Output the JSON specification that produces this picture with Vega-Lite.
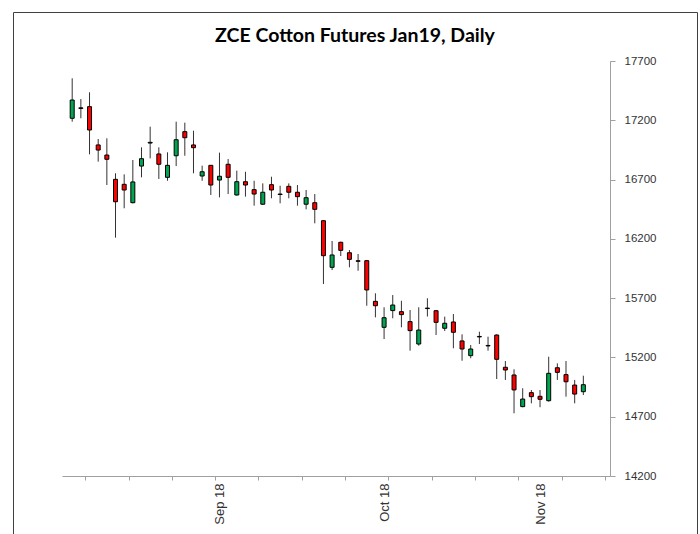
{
  "$schema": "https://vega.github.io/schema/vega-lite/v6.json",
  "width": 684,
  "height": 522,
  "autosize": {"type": "none"},
  "padding": {"left": 13, "top": 12, "right": 3, "bottom": 0},
  "background": "white",
  "title": {
    "text": "ZCE Cotton Futures Jan19, Daily",
    "font": "Lato",
    "fontSize": 19.5,
    "fontWeight": "bold",
    "color": "#000000",
    "anchor": "middle",
    "frame": "group",
    "baseline": "top",
    "offset": -34
  },
  "data": {
    "values": [
      {"date": "2018-08-09", "o": 17217, "h": 17554, "l": 17188, "c": 17371},
      {"date": "2018-08-10", "o": 17305, "h": 17379, "l": 17217, "c": 17300},
      {"date": "2018-08-13", "o": 17315, "h": 17436, "l": 16913, "c": 17118},
      {"date": "2018-08-14", "o": 16992, "h": 17042, "l": 16851, "c": 16949},
      {"date": "2018-08-15", "o": 16907, "h": 17048, "l": 16654, "c": 16871},
      {"date": "2018-08-16", "o": 16702, "h": 16753, "l": 16210, "c": 16513},
      {"date": "2018-08-17", "o": 16660, "h": 16744, "l": 16458, "c": 16612},
      {"date": "2018-08-20", "o": 16505, "h": 16865, "l": 16500, "c": 16680},
      {"date": "2018-08-21", "o": 16814, "h": 16972, "l": 16719, "c": 16876},
      {"date": "2018-08-22", "o": 17008, "h": 17146, "l": 16879, "c": 17014},
      {"date": "2018-08-23", "o": 16916, "h": 16972, "l": 16705, "c": 16829},
      {"date": "2018-08-24", "o": 16719, "h": 16930, "l": 16690, "c": 16820},
      {"date": "2018-08-27", "o": 16901, "h": 17188, "l": 16814, "c": 17036},
      {"date": "2018-08-28", "o": 17104, "h": 17180, "l": 16901, "c": 17053},
      {"date": "2018-08-29", "o": 16992, "h": 17112, "l": 16753, "c": 16969},
      {"date": "2018-08-30", "o": 16730, "h": 16817, "l": 16690, "c": 16766},
      {"date": "2018-08-31", "o": 16820, "h": 16823, "l": 16570, "c": 16654},
      {"date": "2018-09-03", "o": 16696, "h": 16927, "l": 16550, "c": 16728},
      {"date": "2018-09-04", "o": 16829, "h": 16873, "l": 16578, "c": 16719},
      {"date": "2018-09-05", "o": 16570, "h": 16775, "l": 16565, "c": 16682},
      {"date": "2018-09-06", "o": 16682, "h": 16766, "l": 16556, "c": 16654},
      {"date": "2018-09-07", "o": 16615, "h": 16690, "l": 16480, "c": 16578},
      {"date": "2018-09-10", "o": 16492, "h": 16668, "l": 16486, "c": 16593},
      {"date": "2018-09-11", "o": 16657, "h": 16724, "l": 16542, "c": 16612},
      {"date": "2018-09-12", "o": 16578, "h": 16648, "l": 16500, "c": 16574},
      {"date": "2018-09-13", "o": 16643, "h": 16668, "l": 16542, "c": 16593},
      {"date": "2018-09-14", "o": 16593, "h": 16654, "l": 16480, "c": 16556},
      {"date": "2018-09-17", "o": 16492, "h": 16612, "l": 16449, "c": 16547},
      {"date": "2018-09-18", "o": 16505, "h": 16578, "l": 16331, "c": 16449},
      {"date": "2018-09-19", "o": 16353, "h": 16359, "l": 15819, "c": 16058},
      {"date": "2018-09-20", "o": 15960, "h": 16182, "l": 15937, "c": 16064},
      {"date": "2018-09-21", "o": 16171, "h": 16176, "l": 16055, "c": 16103},
      {"date": "2018-09-25", "o": 16083, "h": 16106, "l": 15960, "c": 16027},
      {"date": "2018-09-26", "o": 16015, "h": 16072, "l": 15931, "c": 16011},
      {"date": "2018-09-27", "o": 16016, "h": 16022, "l": 15636, "c": 15769},
      {"date": "2018-09-28", "o": 15673, "h": 15741, "l": 15538, "c": 15636},
      {"date": "2018-10-08", "o": 15454, "h": 15623, "l": 15355, "c": 15535},
      {"date": "2018-10-09", "o": 15595, "h": 15726, "l": 15530, "c": 15642},
      {"date": "2018-10-10", "o": 15586, "h": 15678, "l": 15454, "c": 15561},
      {"date": "2018-10-11", "o": 15502, "h": 15600, "l": 15257, "c": 15426},
      {"date": "2018-10-12", "o": 15313, "h": 15623, "l": 15299, "c": 15431},
      {"date": "2018-10-15", "o": 15616, "h": 15699, "l": 15545, "c": 15612},
      {"date": "2018-10-16", "o": 15594, "h": 15600, "l": 15389, "c": 15496},
      {"date": "2018-10-17", "o": 15446, "h": 15544, "l": 15423, "c": 15488},
      {"date": "2018-10-18", "o": 15499, "h": 15566, "l": 15277, "c": 15412},
      {"date": "2018-10-19", "o": 15339, "h": 15395, "l": 15172, "c": 15271},
      {"date": "2018-10-22", "o": 15215, "h": 15305, "l": 15193, "c": 15271},
      {"date": "2018-10-23", "o": 15377, "h": 15417, "l": 15313, "c": 15373},
      {"date": "2018-10-24", "o": 15301, "h": 15375, "l": 15257, "c": 15297},
      {"date": "2018-10-25", "o": 15389, "h": 15395, "l": 15018, "c": 15184},
      {"date": "2018-10-26", "o": 15117, "h": 15170, "l": 15010, "c": 15094},
      {"date": "2018-10-29", "o": 15052, "h": 15100, "l": 14729, "c": 14926},
      {"date": "2018-10-30", "o": 14785, "h": 14940, "l": 14780, "c": 14849},
      {"date": "2018-10-31", "o": 14903, "h": 14925, "l": 14813, "c": 14869},
      {"date": "2018-11-01", "o": 14872, "h": 14925, "l": 14780, "c": 14847},
      {"date": "2018-11-02", "o": 14835, "h": 15206, "l": 14827, "c": 15066},
      {"date": "2018-11-05", "o": 15113, "h": 15150, "l": 15010, "c": 15074},
      {"date": "2018-11-06", "o": 15055, "h": 15170, "l": 14869, "c": 14995},
      {"date": "2018-11-07", "o": 14967, "h": 15010, "l": 14813, "c": 14891},
      {"date": "2018-11-08", "o": 14911, "h": 15046, "l": 14883, "c": 14970}
    ]
  },
  "transform": [
    {"window": [{"op": "row_number", "as": "n"}], "sort": [{"field": "date", "order": "ascending"}]}
  ],
  "encoding": {
    "x": {
      "field": "n",
      "type": "quantitative",
      "scale": {"domain": [0.4, 62.5], "range": [49, 597], "nice": false, "zero": false},
      "axis": {
        "values": [2.5, 7.5, 12.5, 17.5, 22.5, 27.5, 32.5, 37.5, 42.5, 47.5, 52.5, 57.5, 62.5, 18, 37, 55],
        "labelExpr": "datum.value == 18 ? 'Sep 18' : datum.value == 37 ? 'Oct 18' : datum.value == 55 ? 'Nov 18' : ''",
        "tickOpacity": {"condition": {"test": "datum.value == 18 || datum.value == 37 || datum.value == 55", "value": 0}, "value": 1},
        "labelAngle": 270,
        "labelFont": "Liberation Sans",
        "labelFontSize": 13,
        "labelColor": "#333333",
        "labelPadding": 3,
        "labelOverlap": false,
        "labelFlush": false,
        "labelBound": false,
        "tickSize": 4,
        "tickColor": "#a0a0a0",
        "domainColor": "#a0a0a0",
        "grid": false,
        "title": null,
        "offset": -58
      }
    }
  },
  "layer": [
    {
      "mark": {"type": "rule", "color": "#333333", "strokeWidth": 1},
      "encoding": {
        "y": {
          "field": "l",
          "type": "quantitative",
          "scale": {"domain": [14200, 17700], "range": [464, 49], "nice": false, "zero": false},
          "axis": {
            "orient": "right",
            "values": [14200, 14700, 15200, 15700, 16200, 16700, 17200, 17700],
            "format": "d",
            "labelFont": "Liberation Sans",
            "labelFontSize": 11.5,
            "labelColor": "#333333",
            "labelPadding": 9,
            "labelFlush": false,
            "tickSize": 5,
            "tickColor": "#a0a0a0",
            "domainColor": "#a0a0a0",
            "grid": false,
            "title": null,
            "offset": -87
          }
        },
        "y2": {"field": "h"}
      }
    },
    {
      "mark": {"type": "bar", "orient": "vertical", "size": 4, "stroke": "#000000", "strokeWidth": 1},
      "encoding": {
        "y": {
          "field": "o",
          "type": "quantitative",
          "scale": {"domain": [14200, 17700], "range": [464, 49], "nice": false, "zero": false},
          "axis": {
            "orient": "right",
            "values": [14200, 14700, 15200, 15700, 16200, 16700, 17200, 17700],
            "format": "d",
            "labelFont": "Liberation Sans",
            "labelFontSize": 11.5,
            "labelColor": "#333333",
            "labelPadding": 9,
            "labelFlush": false,
            "tickSize": 5,
            "tickColor": "#a0a0a0",
            "domainColor": "#a0a0a0",
            "grid": false,
            "title": null,
            "offset": -87
          }
        },
        "y2": {"field": "c"},
        "fill": {"condition": {"test": "datum.c > datum.o", "value": "#00a550"}, "value": "#ff0000"}
      }
    }
  ],
  "config": {
    "view": {"stroke": "#404040", "strokeWidth": 1}
  }
}
